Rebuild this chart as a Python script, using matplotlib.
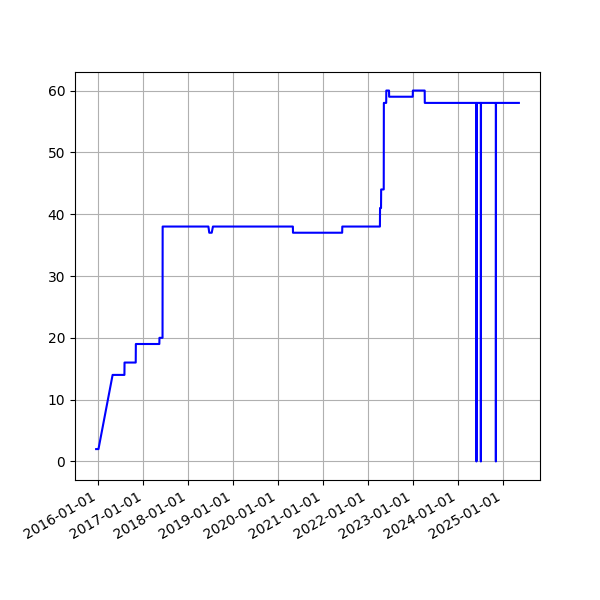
import numpy as np
import pandas as pd
import matplotlib
matplotlib.use("Agg")
import matplotlib.pyplot as plt
import matplotlib.dates as mdates

# change points of the count (date, value)
dates = [
    "2015-12-13", "2016-01-01", "2016-04-25", "2016-07-30", "2016-07-31",
    "2016-10-30", "2016-10-31", "2017-05-10", "2017-05-11", "2017-06-05",
    "2017-06-06", "2018-06-13", "2018-06-20", "2018-07-10", "2018-07-20",
    "2020-04-30", "2020-05-01", "2021-06-05", "2021-06-06", "2022-04-08",
    "2022-04-09", "2022-04-17", "2022-04-18", "2022-05-09", "2022-05-10",
    "2022-05-29", "2022-05-30", "2022-06-21", "2022-06-22", "2022-12-31",
    "2023-01-01", "2023-04-07", "2023-04-08", "2024-06-01",
    "2024-06-01", "2024-06-02", "2024-07-07", "2024-07-07", "2024-07-08",
    "2024-11-06", "2024-11-06", "2024-11-07", "2025-05-12",
]
values = [
    2, 2, 14, 14, 16,
    16, 19, 19, 20, 20,
    38, 38, 37, 37, 38,
    38, 37, 37, 38, 38,
    41, 41, 44, 44, 58,
    58, 60, 60, 59, 59,
    60, 60, 58, 58,
    0, 58, 58, 0, 58,
    58, 0, 58, 58,
]

x = pd.to_datetime(dates)

fig, ax = plt.subplots(figsize=(6, 6), dpi=100)
ax.plot(x, values, color='blue')
ax.grid(True)
ax.xaxis.set_major_locator(mdates.YearLocator())
ax.xaxis.set_major_formatter(mdates.DateFormatter('%Y-%m-%d'))
fig.autofmt_xdate()

plt.savefig("out.png")
